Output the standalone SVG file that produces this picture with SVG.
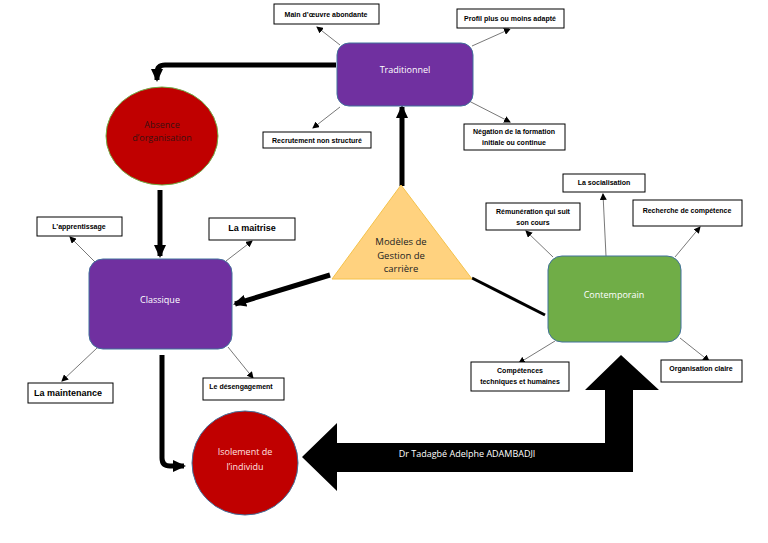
<svg xmlns="http://www.w3.org/2000/svg" width="768" height="543" viewBox="0 0 768 543">
<defs>
<marker id="thin" markerUnits="userSpaceOnUse" markerWidth="7" markerHeight="7" refX="6" refY="3.5" orient="auto"><path d="M0,0 L7,3.5 L0,7 z" fill="#000"/></marker>
<marker id="thick" markerUnits="userSpaceOnUse" markerWidth="14" markerHeight="12" refX="11" refY="6" orient="auto"><path d="M0,0 L13,6 L0,12 z" fill="#000"/></marker>
<style>
.lbl{fill:#fff;stroke:#000;stroke-width:1}
.lt{font-family:"Liberation Sans",Arial,sans-serif;font-weight:bold;font-size:7px;fill:#000;text-anchor:middle}
.lt2{font-family:"Liberation Sans",Arial,sans-serif;font-weight:bold;font-size:9px;fill:#000;text-anchor:middle}
.nt{font-family:"Open Sans","Liberation Sans",sans-serif;font-size:9px;fill:#fff;text-anchor:middle}
.purple{fill:#7030a0;stroke:#41719c;stroke-width:1}
.thin{stroke:#555;stroke-width:0.8;fill:none;marker-end:url(#thin)}
.thk{stroke:#000;stroke-width:5;fill:none}
</style>
</defs>
<rect width="768" height="543" fill="#fff"/>

<g id="connectors">
<line class="thin" x1="340" y1="45" x2="317" y2="27"/>
<line class="thin" x1="472" y1="46" x2="510" y2="29"/>
<line class="thin" x1="340" y1="107" x2="313" y2="128"/>
<line class="thin" x1="467" y1="100" x2="510" y2="122"/>
<line class="thin" x1="95" y1="262" x2="70" y2="237"/>
<line class="thin" x1="226" y1="261" x2="252" y2="241"/>
<line class="thin" x1="97" y1="348" x2="62" y2="381"/>
<line class="thin" x1="228" y1="347" x2="253" y2="378"/>
<line class="thin" x1="606" y1="256" x2="603" y2="194"/>
<line class="thin" x1="553" y1="257" x2="526" y2="231"/>
<line class="thin" x1="675" y1="257" x2="700" y2="227"/>
<line class="thin" x1="555" y1="341" x2="519" y2="363"/>
<line class="thin" x1="680" y1="338" x2="709" y2="361"/>
<line class="thk" x1="402" y1="186" x2="402" y2="107" marker-end="url(#thick)"/>
<path class="thk" d="M336,65 L165,65 Q157,65 157,73 L157,80" marker-end="url(#thick)"/>
<line class="thk" x1="160" y1="190" x2="160" y2="256" marker-end="url(#thick)"/>
<line class="thk" x1="330" y1="275" x2="235" y2="304" marker-end="url(#thick)"/>
<line x1="472" y1="278" x2="545" y2="315" stroke="#000" stroke-width="3"/>
<path class="thk" d="M162,355 L162,458 Q162,466 170,466 L184,466" marker-end="url(#thick)"/>
<path d="M302,457 L337,423 L337,443 L605,443 L605,390 L585,390 L621,355 L659,390 L633,390 L633,472 L337,472 L337,491 Z" fill="#000"/>
<text x="467" y="457" font-family="'Open Sans','Liberation Sans',sans-serif" font-size="9" fill="#fff" text-anchor="middle">Dr Tadagbé Adelphe ADAMBADJI</text>
</g>

<g id="traditionnel">
<rect class="purple" x="337" y="43" width="136" height="63" rx="12"/>
<text class="nt" x="405" y="73">Traditionnel</text>
</g>
<g id="main-oeuvre">
<rect class="lbl" x="274" y="4" width="105" height="20"/>
<text class="lt" x="326" y="17">Main d’œuvre abondante</text>
</g>
<g id="profil">
<rect class="lbl" x="457" y="9" width="107" height="19"/>
<text class="lt" x="510" y="21">Profil plus ou moins adapté</text>
</g>
<g id="recrutement">
<rect class="lbl" x="263" y="132" width="108" height="16"/>
<text class="lt" x="317" y="143">Recrutement non structuré</text>
</g>
<g id="negation">
<rect class="lbl" x="464" y="124" width="101" height="26"/>
<text class="lt" x="514" y="134">Négation de la formation</text>
<text class="lt" x="514" y="145">initiale ou continue</text>
</g>

<g id="absence">
<ellipse cx="162" cy="136" rx="56" ry="49" fill="#c00000" stroke="#70ad47" stroke-width="1"/>
<text x="162" y="128" font-family="'Open Sans','Liberation Sans',sans-serif" font-size="9" fill="#3a1010" text-anchor="middle">Absence</text>
<text x="162" y="141" font-family="'Open Sans','Liberation Sans',sans-serif" font-size="9" fill="#3a1010" text-anchor="middle">d’organisation</text>
</g>

<g id="classique">
<rect class="purple" x="89" y="259" width="143" height="90" rx="14"/>
<text class="nt" x="160" y="303">Classique</text>
</g>
<g id="apprentissage">
<rect class="lbl" x="37" y="217" width="85" height="19"/>
<text class="lt" x="79" y="229">L’apprentissage</text>
</g>
<g id="maitrise">
<rect class="lbl" x="209" y="218" width="86" height="22"/>
<text class="lt2" x="252" y="231">La maitrise</text>
</g>
<g id="maintenance">
<rect class="lbl" x="28" y="383" width="85" height="20"/>
<text class="lt2" x="68" y="396">La maintenance</text>
</g>
<g id="desengagement">
<rect class="lbl" x="203" y="378" width="81" height="22"/>
<text class="lt" x="241" y="389">Le désengagement</text>
</g>

<g id="modeles">
<polygon points="401,185 332,279 472,279" fill="#ffd27f" stroke="#f4c24a" stroke-width="1"/>
<text x="401" y="245" font-family="'Open Sans','Liberation Sans',sans-serif" font-size="9.5" fill="#222" text-anchor="middle">Modèles de</text>
<text x="401" y="259" font-family="'Open Sans','Liberation Sans',sans-serif" font-size="9.5" fill="#222" text-anchor="middle">Gestion de</text>
<text x="401" y="272" font-family="'Open Sans','Liberation Sans',sans-serif" font-size="9.5" fill="#222" text-anchor="middle">carrière</text>
</g>

<g id="contemporain">
<rect x="548" y="256" width="133" height="86" rx="14" fill="#70ad47" stroke="#41719c" stroke-width="1"/>
<text class="nt" x="614" y="298">Contemporain</text>
</g>
<g id="socialisation">
<rect class="lbl" x="563" y="174" width="82" height="18"/>
<text class="lt" x="604" y="185">La socialisation</text>
</g>
<g id="remuneration">
<rect class="lbl" x="486" y="203" width="94" height="27"/>
<text class="lt" x="533" y="214">Rémunération qui suit</text>
<text class="lt" x="533" y="225">son cours</text>
</g>
<g id="recherche">
<rect class="lbl" x="633" y="200" width="109" height="26"/>
<text class="lt" x="687" y="213">Recherche de compétence</text>
</g>
<g id="competences">
<rect class="lbl" x="471" y="362" width="98" height="29"/>
<text class="lt" x="520" y="373">Compétences</text>
<text class="lt" x="520" y="384">techniques et humaines</text>
</g>
<g id="organisation">
<rect class="lbl" x="661" y="360" width="81" height="22"/>
<text class="lt" x="701" y="371">Organisation claire</text>
</g>

<g id="isolement">
<ellipse cx="245" cy="463" rx="53" ry="52" fill="#c00000" stroke="#41719c" stroke-width="1"/>
<text x="245" y="455" font-family="'Open Sans','Liberation Sans',sans-serif" font-size="9" fill="#ffe0e0" text-anchor="middle">Isolement de</text>
<text x="245" y="470" font-family="'Open Sans','Liberation Sans',sans-serif" font-size="9" fill="#ffe0e0" text-anchor="middle">l’individu</text>
</g>
</svg>
